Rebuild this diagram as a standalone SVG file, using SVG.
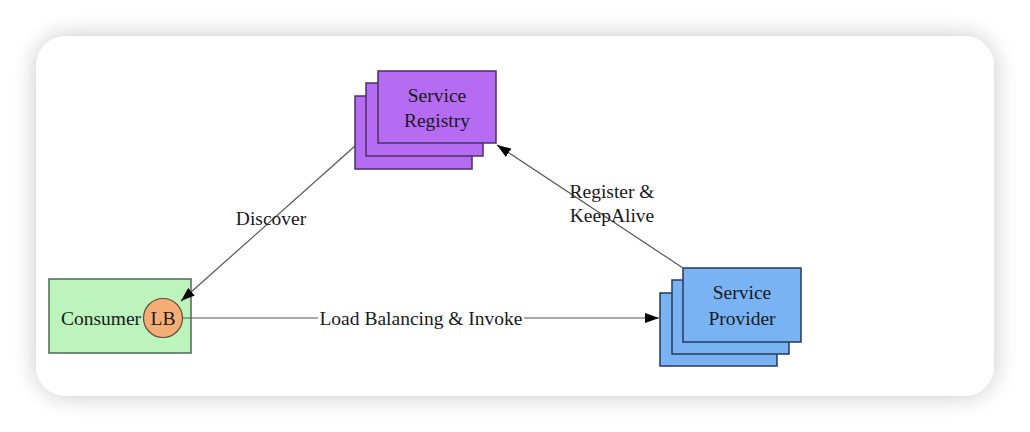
<svg xmlns="http://www.w3.org/2000/svg" width="1030" height="432" viewBox="0 0 1030 432">
<defs>
<filter id="sh" x="-10%" y="-20%" width="120%" height="140%">
<feGaussianBlur in="SourceAlpha" stdDeviation="12"/>
<feComponentTransfer><feFuncA type="linear" slope="0.22"/></feComponentTransfer>
<feMerge><feMergeNode/><feMergeNode in="SourceGraphic"/></feMerge>
</filter>
<marker id="ah" viewBox="0 0 14 10" refX="14" refY="5" markerWidth="14" markerHeight="10" markerUnits="userSpaceOnUse" orient="auto">
<path d="M0,0 L14,5 L0,10 Z" fill="#000"/>
</marker>
<style>
text{font-family:"Liberation Serif","Times New Roman",serif;font-size:19.5px;fill:#1a1a1a;text-anchor:middle}
.reg{fill:#b56cf3;stroke:#4b2f66;stroke-width:1.5}
.prov{fill:#79b3f4;stroke:#243a5a;stroke-width:1.5}
.cons{fill:#bdf4bd;stroke:#4f6a50;stroke-width:1.5}
.lb{fill:#f5ad78;stroke:#6a4a30;stroke-width:1.2}
.edge{stroke:#555;stroke-width:1.2;fill:none}
.bg{fill:#fff}
</style>
</defs>
<rect x="0" y="0" width="1030" height="432" fill="#fff"/>
<rect x="36" y="36" width="958" height="360" rx="30" fill="#fff" filter="url(#sh)"/>
<g id="registry">
<rect class="reg" x="355" y="96" width="117" height="73"/>
<rect class="reg" x="366" y="83" width="117" height="73"/>
<rect class="reg" x="378" y="71" width="118" height="72"/>
<text x="437" y="102">Service</text>
<text x="437" y="127">Registry</text>
</g>
<g id="consumer">
<rect class="cons" x="49" y="279" width="142" height="74"/>
<text x="101" y="325">Consumer</text>
</g>
<g id="lb">
<circle class="lb" cx="163" cy="318" r="19.5"/>
<text x="163" y="325">LB</text>
</g>
<g id="provider">
<rect class="prov" x="660" y="293" width="117" height="73"/>
<rect class="prov" x="672" y="280" width="117" height="74"/>
<rect class="prov" x="683" y="268" width="118" height="74"/>
<text x="742" y="299">Service</text>
<text x="742" y="325">Provider</text>
</g>
<g id="connectors">
<line class="edge" x1="355" y1="146" x2="181" y2="301" marker-end="url(#ah)"/>
<line class="edge" x1="683" y1="268" x2="497" y2="145" marker-end="url(#ah)"/>
<line class="edge" x1="183" y1="318" x2="659" y2="318" marker-end="url(#ah)"/>
<text x="271" y="225">Discover</text>
<text x="612" y="198">Register &amp;</text>
<text x="612" y="222">KeepAlive</text>
<rect x="318" y="306" width="206" height="24" class="bg"/>
<text x="421" y="325">Load Balancing &amp; Invoke</text>
</g>
</svg>
